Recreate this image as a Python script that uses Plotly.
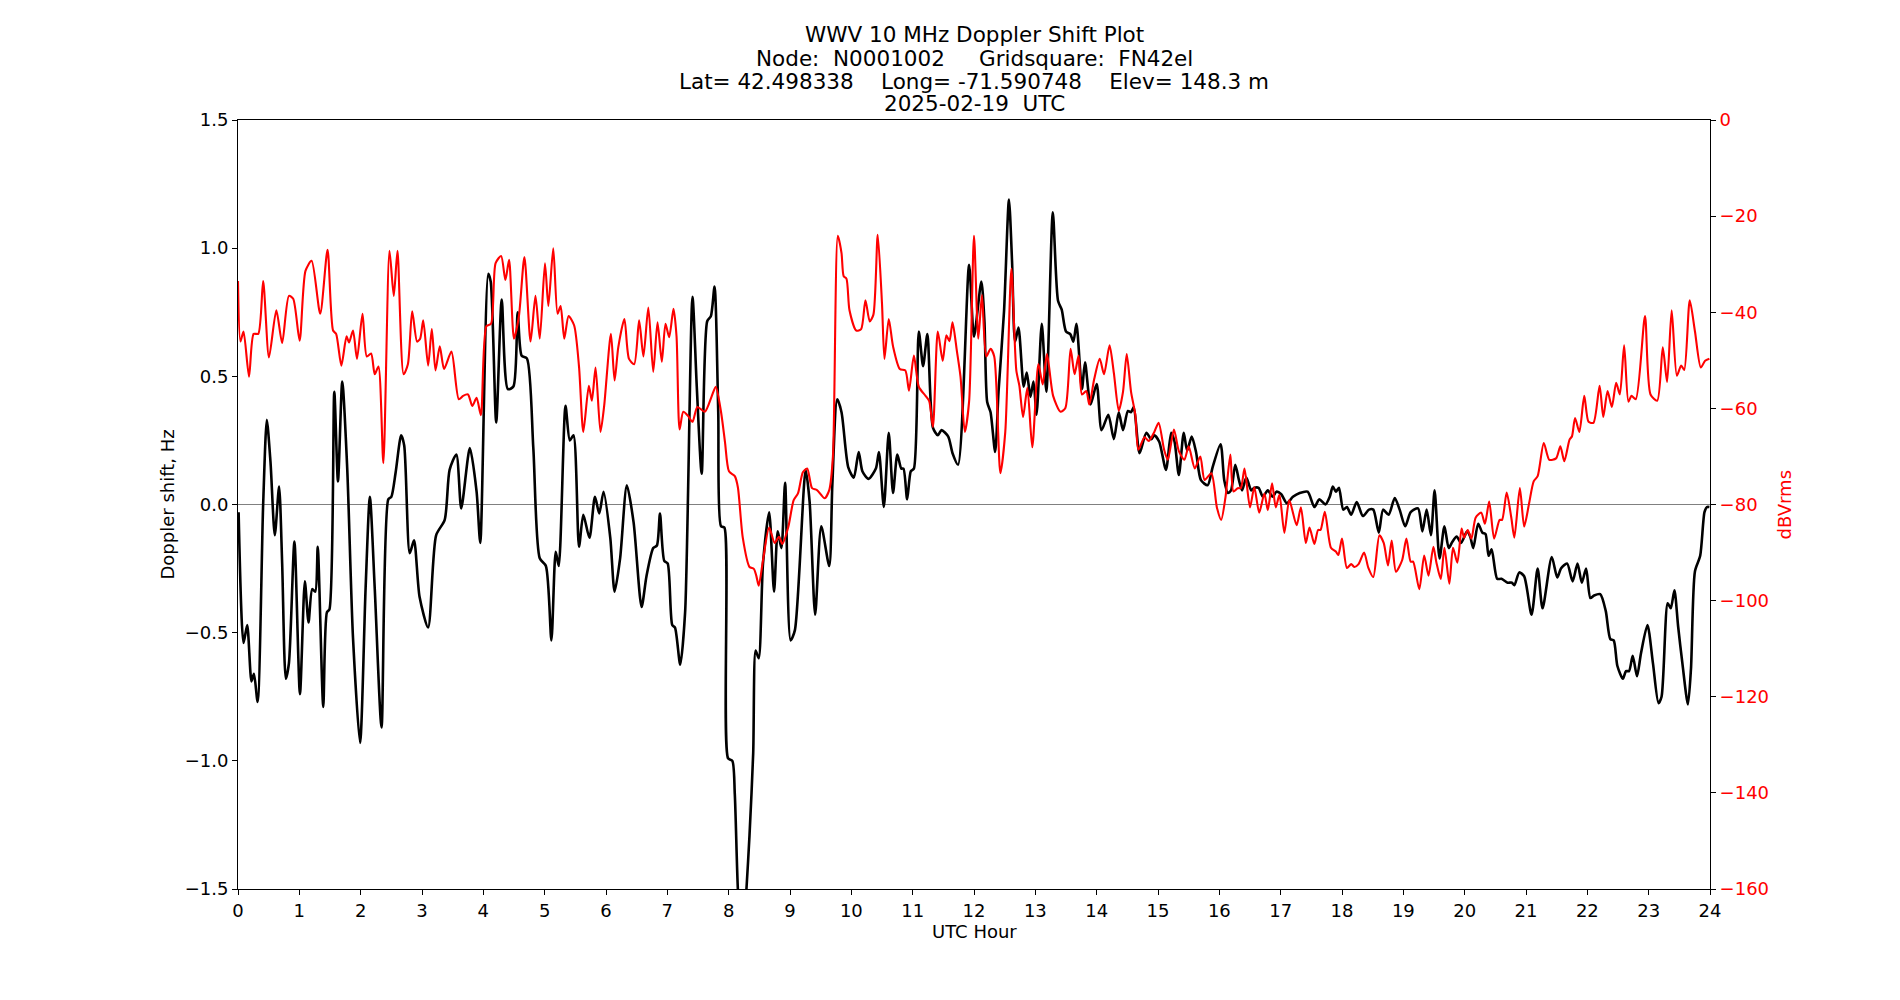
import plotly.graph_objects as go

title_lines = [
    "WWV 10 MHz Doppler Shift Plot",
    "Node:  N0001002     Gridsquare:  FN42el",
    "Lat= 42.498338    Long= -71.590748    Elev= 148.3 m",
    "2025-02-19  UTC",
]
x_label = "UTC Hour"
y_label = "Doppler shift, Hz"
y2_label = "dBVrms"

# Doppler shift (Hz) vs UTC hour
doppler = [
    (0.01, -0.03), (0.09, -0.54), (0.15, -0.47), (0.22, -0.69), (0.26, -0.66), (0.32, -0.77),
    (0.41, 0.0), (0.47, 0.33), (0.53, 0.165), (0.60, -0.12), (0.67, 0.07), (0.72, -0.23),
    (0.78, -0.68), (0.83, -0.62), (0.92, -0.145), (1.01, -0.74), (1.09, -0.30), (1.15, -0.46),
    (1.21, -0.33), (1.26, -0.34), (1.30, -0.165), (1.39, -0.79), (1.45, -0.42), (1.49, -0.41),
    (1.57, 0.44), (1.63, 0.09), (1.70, 0.48), (1.78, 0.145), (1.875, -0.52), (1.99, -0.93),
    (2.08, -0.33), (2.15, 0.03), (2.23, -0.33), (2.34, -0.87), (2.45, 0.02), (2.50, 0.03),
    (2.57, 0.125), (2.66, 0.27), (2.71, 0.23), (2.80, -0.19), (2.87, -0.14), (2.96, -0.36),
    (3.10, -0.48), (3.23, -0.12), (3.37, -0.06), (3.45, 0.135), (3.56, 0.195), (3.64, -0.015),
    (3.78, 0.22), (3.89, 0.05), (3.95, -0.15),
    (4.08, 0.90), (4.12, 0.87), (4.21, 0.32), (4.30, 0.80), (4.40, 0.45), (4.49, 0.46),
    (4.56, 0.75), (4.625, 0.58), (4.71, 0.57), (4.815, 0.22), (4.92, -0.21), (5.02, -0.24),
    (5.11, -0.53), (5.18, -0.185), (5.23, -0.24), (5.34, 0.385), (5.41, 0.25), (5.47, 0.27),
    (5.56, -0.165), (5.63, -0.04), (5.73, -0.13), (5.82, 0.03), (5.89, -0.035), (5.96, 0.05),
    (6.07, -0.13), (6.14, -0.34), (6.23, -0.21), (6.34, 0.075), (6.45, -0.07), (6.58, -0.40),
    (6.66, -0.28), (6.77, -0.17), (6.83, -0.16), (6.88, -0.035), (6.95, -0.22), (7.005, -0.23),
    (7.08, -0.47), (7.125, -0.48), (7.21, -0.625), (7.29, -0.42), (7.41, 0.81), (7.48, 0.46),
    (7.56, 0.12), (7.65, 0.715), (7.71, 0.735), (7.77, 0.85), (7.83, 0.36), (7.875, -0.085),
    (7.93, -0.09),
    (7.99, -0.99), (8.06, -1.0), (8.10, -1.13), (8.15, -1.5), (8.22, -1.75), (8.29, -1.5),
    (8.34, -1.29), (8.40, -0.97), (8.44, -0.57), (8.49, -0.60), (8.56, -0.23), (8.66, -0.03),
    (8.74, -0.34), (8.80, -0.105), (8.86, -0.17), (8.92, 0.085), (9.01, -0.53), (9.08, -0.49),
    (9.255, 0.135), (9.32, 0.01), (9.41, -0.43), (9.51, -0.085), (9.64, -0.24), (9.69, 0.075),
    (9.77, 0.41), (9.84, 0.36), (9.95, 0.145), (10.04, 0.105), (10.12, 0.205), (10.18, 0.13),
    (10.28, 0.10), (10.40, 0.14), (10.45, 0.205), (10.53, -0.01), (10.61, 0.28), (10.68, 0.045),
    (10.75, 0.195), (10.815, 0.14), (10.85, 0.14), (10.91, 0.02), (10.97, 0.13), (11.02, 0.14),
    (11.10, 0.675), (11.17, 0.54), (11.24, 0.665), (11.33, 0.30), (11.41, 0.27), (11.47, 0.29),
    (11.58, 0.265), (11.65, 0.20), (11.74, 0.155), (11.92, 0.935),
    (12.0, 0.655), (12.12, 0.87), (12.17, 0.715), (12.215, 0.40), (12.27, 0.36), (12.345, 0.205),
    (12.40, 0.44), (12.49, 0.755), (12.57, 1.19), (12.62, 0.95), (12.67, 0.635), (12.725, 0.69),
    (12.81, 0.46), (12.86, 0.515), (12.92, 0.42), (12.97, 0.48), (13.02, 0.35), (13.105, 0.705),
    (13.18, 0.44), (13.285, 1.14), (13.37, 0.795), (13.43, 0.76), (13.50, 0.675), (13.57, 0.665),
    (13.62, 0.635), (13.67, 0.705), (13.76, 0.45), (13.81, 0.555), (13.90, 0.39), (14.00, 0.47),
    (14.08, 0.29), (14.19, 0.35), (14.28, 0.255), (14.36, 0.36), (14.43, 0.29), (14.51, 0.365),
    (14.56, 0.36), (14.605, 0.38), (14.70, 0.20), (14.81, 0.28), (14.89, 0.255), (14.94, 0.27),
    (15.02, 0.245), (15.13, 0.135), (15.215, 0.28), (15.27, 0.245), (15.34, 0.115), (15.42, 0.28),
    (15.475, 0.21), (15.55, 0.265), (15.62, 0.205), (15.70, 0.095), (15.81, 0.075), (15.89, 0.145),
    (16.02, 0.235), (16.08, 0.095), (16.14, 0.045), (16.19, 0.055), (16.26, 0.155), (16.32, 0.095),
    (16.37, 0.055), (16.44, 0.105), (16.52, 0.055), (16.57, 0.065), (16.64, 0.065), (16.71, 0.03),
    (16.79, 0.055), (16.87, 0.03), (16.93, 0.05), (17.01, 0.04), (17.10, 0.005), (17.20, 0.03),
    (17.31, 0.045), (17.44, 0.05), (17.55, -0.01), (17.63, 0.02), (17.73, 0.0), (17.80, 0.03),
    (17.85, 0.07), (17.90, 0.05), (17.95, 0.065), (18.02, -0.02), (18.08, -0.01), (18.15, -0.04),
    (18.24, 0.01), (18.34, -0.045), (18.44, -0.02), (18.51, -0.02), (18.60, -0.11), (18.67, -0.02),
    (18.76, -0.04), (18.86, 0.025), (18.94, -0.02), (19.03, -0.085), (19.12, -0.03), (19.24, -0.015),
    (19.31, -0.105), (19.38, -0.02), (19.45, -0.12), (19.51, 0.055), (19.59, -0.21), (19.67, -0.085),
    (19.74, -0.17), (19.80, -0.145), (19.87, -0.125), (19.94, -0.15), (20.04, -0.105), (20.09, -0.125),
    (20.14, -0.17), (20.22, -0.075), (20.29, -0.11), (20.34, -0.115), (20.39, -0.20), (20.44, -0.175),
    (20.53, -0.29), (20.60, -0.29), (20.70, -0.305), (20.77, -0.305), (20.81, -0.315), (20.89, -0.265),
    (20.97, -0.28), (21.09, -0.43), (21.19, -0.25), (21.27, -0.405), (21.42, -0.205), (21.51, -0.285),
    (21.57, -0.25), (21.67, -0.23), (21.76, -0.30), (21.84, -0.23), (21.91, -0.305), (21.98, -0.25),
    (22.05, -0.365), (22.11, -0.355), (22.21, -0.35), (22.30, -0.415), (22.375, -0.525), (22.43, -0.53),
    (22.49, -0.63), (22.58, -0.68), (22.63, -0.65), (22.68, -0.65), (22.74, -0.59), (22.81, -0.67),
    (22.875, -0.58), (22.98, -0.47), (23.07, -0.62), (23.16, -0.775), (23.21, -0.75), (23.31, -0.385),
    (23.36, -0.405), (23.42, -0.335), (23.48, -0.475), (23.55, -0.62), (23.64, -0.78), (23.69, -0.64),
    (23.755, -0.26), (23.84, -0.20), (23.91, -0.03), (23.95, -0.01), (23.99, -0.01),
]

# Received power (dBVrms) vs UTC hour
power = [
    (0.0, -33.5), (0.04, -46.1), (0.09, -44.0), (0.18, -53.4), (0.255, -44.5), (0.33, -44.5),
    (0.41, -33.5), (0.505, -49.4), (0.625, -39.6), (0.72, -46.4), (0.83, -36.6), (0.90, -37.2),
    (1.005, -45.9), (1.10, -31.4), (1.20, -29.3), (1.34, -40.3), (1.46, -27.0), (1.55, -43.8),
    (1.60, -44.5), (1.685, -51.1), (1.77, -45.0), (1.81, -46.3), (1.875, -43.8), (1.94, -49.7),
    (2.03, -40.3), (2.10, -49.2), (2.17, -48.6), (2.23, -52.9), (2.29, -51.3), (2.37, -71.4),
    (2.47, -27.2), (2.54, -36.6), (2.60, -27.2), (2.70, -52.9), (2.77, -50.8), (2.84, -39.8),
    (2.92, -46.1), (2.97, -45.5), (3.02, -41.7), (3.10, -51.1), (3.16, -43.5), (3.22, -52.1),
    (3.29, -47.1), (3.36, -51.8), (3.48, -48.2), (3.60, -58.1), (3.67, -57.4), (3.75, -57.1),
    (3.82, -59.5), (3.89, -57.8), (3.96, -61.4),
    (4.05, -42.9), (4.125, -42.4), (4.20, -29.8), (4.29, -28.3), (4.36, -33.3), (4.42, -29.1),
    (4.50, -45.5), (4.58, -40.8), (4.67, -28.5), (4.77, -46.1), (4.85, -36.6), (4.92, -45.5),
    (5.005, -29.8), (5.06, -38.7), (5.14, -26.7), (5.21, -40.3), (5.26, -38.7), (5.32, -45.5),
    (5.39, -40.8), (5.48, -42.7), (5.56, -51.3), (5.63, -64.9), (5.72, -55.3), (5.77, -58.4),
    (5.83, -51.5), (5.91, -64.9), (5.97, -59.5), (6.08, -44.5), (6.14, -54.2), (6.20, -47.3),
    (6.30, -41.4), (6.375, -49.7), (6.46, -50.8), (6.54, -41.7), (6.61, -49.2), (6.69, -39.0),
    (6.77, -52.4), (6.84, -42.1), (6.91, -50.3), (6.97, -42.4), (7.03, -45.2), (7.10, -39.3),
    (7.15, -45.0), (7.20, -64.4), (7.26, -60.7), (7.34, -61.6), (7.41, -62.8), (7.49, -59.7),
    (7.61, -60.7), (7.72, -57.6), (7.79, -55.5), (7.875, -60.7), (7.94, -67.0), (8.005, -73.1),
    (8.10, -74.1), (8.15, -76.4), (8.23, -86.9), (8.34, -93.0), (8.41, -93.4), (8.45, -94.8),
    (8.49, -96.9), (8.56, -91.6), (8.66, -84.8), (8.75, -88.0), (8.82, -86.7), (8.875, -88.2),
    (8.97, -84.8), (9.06, -79.1), (9.13, -77.7), (9.21, -73.3), (9.28, -72.5), (9.36, -76.6),
    (9.44, -77.0), (9.565, -78.7), (9.64, -77.0), (9.70, -70.0), (9.78, -24.1), (9.84, -27.7),
    (9.875, -32.5), (9.92, -33.0), (9.97, -39.6), (10.08, -43.8), (10.16, -43.5), (10.23, -37.5),
    (10.30, -41.9), (10.36, -40.5), (10.43, -23.9), (10.50, -38.2), (10.54, -49.7), (10.61, -41.4),
    (10.68, -47.1), (10.79, -51.8), (10.88, -52.1), (10.94, -56.3), (11.02, -49.0), (11.10, -55.5),
    (11.21, -57.4), (11.27, -58.5), (11.33, -63.9), (11.41, -44.0), (11.49, -50.1), (11.55, -44.8),
    (11.60, -46.0), (11.65, -42.1), (11.72, -48.0), (11.78, -53.4), (11.85, -64.9), (11.92, -58.6),
    (12.0, -24.1), (12.07, -45.5), (12.13, -36.4), (12.20, -49.2), (12.27, -47.6), (12.33, -49.2),
    (12.43, -73.5), (12.51, -64.9), (12.61, -30.9), (12.69, -52.1), (12.74, -55.3), (12.80, -61.8),
    (12.87, -55.7), (12.95, -68.1), (13.05, -50.8), (13.12, -55.0), (13.19, -48.7), (13.29, -57.4),
    (13.41, -60.7), (13.49, -59.9), (13.575, -47.6), (13.64, -52.9), (13.705, -49.0), (13.76, -57.1),
    (13.83, -56.4), (13.88, -59.2), (13.96, -53.9), (14.05, -49.7), (14.12, -52.9), (14.21, -46.9),
    (14.28, -52.6), (14.36, -60.5), (14.43, -56.5), (14.49, -48.7), (14.56, -56.5), (14.63, -61.3),
    (14.68, -68.6), (14.78, -66.0), (14.85, -66.8), (14.94, -64.9), (15.01, -63.0), (15.10, -68.6),
    (15.16, -70.7), (15.26, -64.4), (15.34, -68.9), (15.43, -70.7), (15.50, -67.9), (15.60, -72.5),
    (15.69, -70.0), (15.76, -74.9), (15.87, -73.5), (15.96, -80.6), (16.03, -83.2), (16.10, -78.5),
    (16.18, -69.6), (16.23, -77.3), (16.30, -76.6), (16.35, -76.6), (16.41, -72.5), (16.50, -80.6),
    (16.57, -76.4), (16.65, -81.7), (16.735, -77.7), (16.79, -81.2), (16.86, -75.6), (16.92, -80.6),
    (16.98, -78.0), (17.06, -85.9), (17.14, -79.1), (17.26, -84.3), (17.33, -80.6), (17.41, -88.0),
    (17.47, -84.8), (17.55, -88.2), (17.61, -85.3), (17.65, -85.3), (17.72, -81.5), (17.82, -89.0),
    (17.90, -89.8), (17.94, -90.5), (18.00, -87.1), (18.08, -93.2), (18.15, -92.4), (18.20, -93.0),
    (18.27, -92.4), (18.36, -90.0), (18.43, -93.2), (18.51, -95.1), (18.61, -86.4), (18.68, -88.0),
    (18.75, -92.7), (18.81, -87.5), (18.88, -94.0), (18.98, -91.6), (19.05, -87.1), (19.12, -91.9),
    (19.16, -91.9), (19.26, -97.6), (19.34, -90.6), (19.41, -94.8), (19.49, -88.8), (19.54, -92.1),
    (19.61, -95.5), (19.67, -89.0), (19.75, -96.5), (19.81, -89.0), (19.88, -92.1), (19.95, -85.0),
    (19.99, -86.9), (20.05, -85.3), (20.11, -87.1), (20.18, -82.7), (20.27, -81.7), (20.33, -84.0),
    (20.40, -79.4), (20.48, -87.1), (20.57, -83.2), (20.61, -83.2), (20.685, -77.5), (20.76, -82.7),
    (20.81, -86.9), (20.90, -76.6), (20.97, -84.6), (21.05, -79.8), (21.125, -75.2), (21.19, -74.1),
    (21.29, -67.2), (21.38, -70.7), (21.49, -70.4), (21.56, -67.9), (21.625, -71.0), (21.71, -66.5),
    (21.75, -65.8), (21.80, -62.0), (21.87, -64.9), (21.95, -57.4), (22.02, -62.8), (22.10, -63.0),
    (22.20, -55.3), (22.26, -61.8), (22.33, -56.4), (22.40, -59.7), (22.47, -54.7), (22.53, -57.1),
    (22.60, -46.9), (22.67, -58.6), (22.72, -57.4), (22.79, -58.1), (22.94, -40.8), (23.03, -57.1),
    (23.14, -58.4), (23.23, -47.3), (23.30, -54.5), (23.375, -39.6), (23.46, -53.2), (23.53, -51.1),
    (23.58, -52.0), (23.67, -37.5), (23.755, -44.0), (23.85, -51.5), (23.92, -50.1), (23.99, -49.7),
]

x_ticks = list(range(0, 25))
y_ticks = [-1.5, -1.0, -0.5, 0.0, 0.5, 1.0, 1.5]
y2_ticks = [-160, -140, -120, -100, -80, -60, -40, -20, 0]

FONT = "DejaVu Sans"
TICK_SIZE = 18
LABEL_SIZE = 18
TITLE_SIZE = 21.5
W, H = 1900, 1000
L, R, T, B = 238, 190, 120, 111
PW, PH = W - L - R, H - T - B

fig = go.Figure()
fig.add_trace(go.Scatter(
    x=[p[0] for p in doppler], y=[p[1] for p in doppler],
    mode="lines", line=dict(color="black", width=2.6, shape="spline", smoothing=0.7),
    yaxis="y", showlegend=False, hoverinfo="skip"))
fig.add_trace(go.Scatter(
    x=[p[0] for p in power], y=[p[1] for p in power],
    mode="lines", line=dict(color="red", width=2.1, shape="spline", smoothing=0.7),
    yaxis="y2", showlegend=False, hoverinfo="skip"))

fig.add_shape(type="line", xref="paper", x0=0, x1=1, yref="y", y0=0, y1=0,
              line=dict(color="gray", width=1.2), layer="below")

annotations = []
title_y_px = [35, 58, 81, 104]
for txt, ypx in zip(title_lines, title_y_px):
    annotations.append(dict(text=txt, xref="paper", yref="paper", x=0.5,
                            y=(H - B - ypx) / PH, xanchor="center", yanchor="middle",
                            showarrow=False, font=dict(family=FONT, size=TITLE_SIZE, color="black")))
annotations.append(dict(text=x_label, xref="paper", yref="paper", x=0.5,
                        y=(H - B - 931) / PH, xanchor="center", yanchor="middle",
                        showarrow=False, font=dict(family=FONT, size=LABEL_SIZE, color="black")))
annotations.append(dict(text=y_label, xref="paper", yref="paper", x=(167 - L) / PW,
                        y=0.5, xanchor="center", yanchor="middle", textangle=-90,
                        showarrow=False, font=dict(family=FONT, size=LABEL_SIZE, color="black")))
annotations.append(dict(text=y2_label, xref="paper", yref="paper", x=(1784 - L) / PW,
                        y=0.5, xanchor="center", yanchor="middle", textangle=-90,
                        showarrow=False, font=dict(family=FONT, size=LABEL_SIZE, color="red")))

fig.update_layout(
    width=W, height=H,
    margin=dict(l=L, r=R, t=T, b=B, pad=0),
    paper_bgcolor="white", plot_bgcolor="white",
    font=dict(family=FONT, size=TICK_SIZE, color="black"),
    annotations=annotations,
    xaxis=dict(range=[0, 24], tickvals=x_ticks, ticks="outside", ticklen=5, tickwidth=1,
               tickcolor="black", showline=True, linecolor="black", linewidth=1, mirror=True,
               showgrid=False, zeroline=False,
               tickfont=dict(family=FONT, size=TICK_SIZE, color="black")),
    yaxis=dict(range=[-1.5, 1.5], tickvals=y_ticks, tickformat=".1f", ticks="outside",
               ticklen=5, tickwidth=1, tickcolor="black", showline=True, linecolor="black",
               linewidth=1, mirror=True, showgrid=False, zeroline=False,
               tickfont=dict(family=FONT, size=TICK_SIZE, color="black")),
    yaxis2=dict(range=[-160, 0], tickvals=y2_ticks, overlaying="y", side="right",
                ticks="outside", ticklen=5, tickwidth=1, tickcolor="black", showline=True,
                linecolor="black", linewidth=1, showgrid=False, zeroline=False,
                tickfont=dict(family=FONT, size=TICK_SIZE, color="red")),
)

fig.write_html("out.html")
